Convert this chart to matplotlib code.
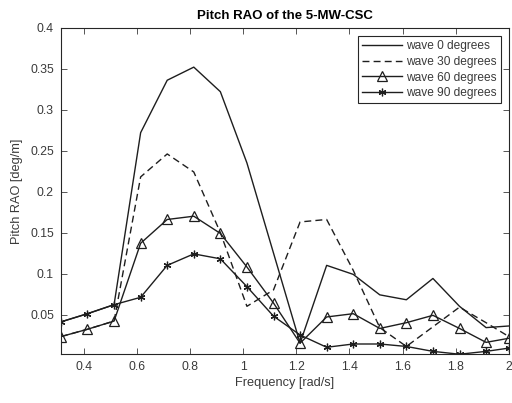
import matplotlib
matplotlib.use("Agg")
import matplotlib.pyplot as plt

plt.rcParams['font.family'] = ['Liberation Sans', 'DejaVu Sans']

# Wave frequencies [rad/s]
freq = [0.314, 0.414, 0.514, 0.614, 0.714, 0.814, 0.914, 1.014, 1.114,
        1.214, 1.314, 1.414, 1.514, 1.614, 1.714, 1.814, 1.914, 2.0]

# Pitch RAO [deg/m] for each wave heading
rao_0 = [0.041, 0.051, 0.062, 0.272, 0.336, 0.352, 0.322, 0.235, 0.125,
         0.015, 0.110, 0.099, 0.074, 0.068, 0.094, 0.060, 0.034, 0.036]
rao_30 = [0.023, 0.032, 0.042, 0.218, 0.246, 0.224, 0.150, 0.060, 0.080,
          0.163, 0.166, 0.104, 0.034, 0.011, 0.035, 0.059, 0.040, 0.023]
rao_60 = [0.023, 0.032, 0.042, 0.137, 0.166, 0.170, 0.149, 0.108, 0.064,
          0.015, 0.047, 0.051, 0.033, 0.040, 0.049, 0.033, 0.016, 0.021]
rao_90 = [0.041, 0.051, 0.062, 0.071, 0.110, 0.124, 0.118, 0.084, 0.048,
          0.025, 0.010, 0.014, 0.014, 0.011, 0.005, 0.0015, 0.005, 0.009]

labels = ['wave 0 degrees', 'wave 30 degrees', 'wave 60 degrees', 'wave 90 degrees']

xticks = [0.4, 0.6, 0.8, 1.0, 1.2, 1.4, 1.6, 1.8, 2.0]
xticklabels = ['0.4', '0.6', '0.8', '1', '1.2', '1.4', '1.6', '1.8', '2']
yticks = [0.05, 0.1, 0.15, 0.2, 0.25, 0.3, 0.35, 0.4]
yticklabels = ['0.05', '0.1', '0.15', '0.2', '0.25', '0.3', '0.35', '0.4']

line_col = '#1e1e1e'
axis_col = '#3a3a3a'

fig = plt.figure(figsize=(5.12, 4.03), dpi=100)
ax = fig.add_axes([0.119, 0.121, 0.875, 0.810])

ax.plot(freq, rao_0, '-', color=line_col, lw=1.0, label=labels[0])
ax.plot(freq, rao_30, '--', color=line_col, lw=1.0, dashes=(5, 3), label=labels[1])
ax.plot(freq, rao_60, '-', color=line_col, lw=1.0, marker='^', ms=6.5,
        mfc='none', mec=line_col, mew=0.9, label=labels[2])
ax.plot(freq, rao_90, '-', color=line_col, lw=1.0, marker=(6, 2, 0), ms=5.5,
        mec=line_col, mew=0.9, label=labels[3])

ax.set_xlim(freq[0], 2.0)
ax.set_ylim(min(rao_90), 0.4)
ax.set_xticks(xticks)
ax.set_xticklabels(xticklabels)
ax.set_yticks(yticks)
ax.set_yticklabels(yticklabels)

ax.tick_params(direction='in', top=True, right=True, length=4, width=0.6,
               colors=axis_col, labelsize=8.8, pad=5)
for s in ax.spines.values():
    s.set_color('#262626')
    s.set_linewidth(0.8)

ax.set_xlabel('Frequency [rad/s]', fontsize=9.2, color=axis_col, labelpad=3)
ax.set_ylabel('Pitch RAO [deg/m]', fontsize=9.2, color=axis_col, labelpad=5)
ax.set_title('Pitch RAO of the 5-MW-CSC', fontsize=9.5, fontweight='bold',
             color='black', pad=6)

leg = ax.legend(loc='upper right', fontsize=8.6, frameon=True, fancybox=False,
                edgecolor='#262626', framealpha=1, handlelength=3.4,
                handletextpad=0.3, borderpad=0.35, labelspacing=0.3,
                borderaxespad=0.7)
leg.get_frame().set_linewidth(0.8)
for t in leg.get_texts():
    t.set_color(axis_col)

fig.savefig('out.png', dpi=100)
